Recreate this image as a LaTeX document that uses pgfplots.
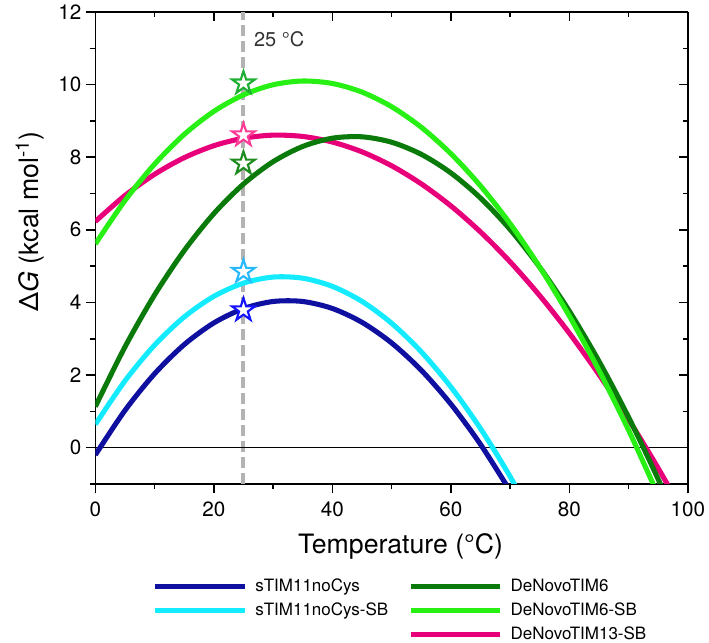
\documentclass[border=0pt]{standalone}
\usepackage{fontspec}
\setmainfont{TeX Gyre Heros}
\usepackage{pgfplots}
\pgfplotsset{compat=1.18}

\definecolor{cNavy}{RGB}{16,16,160}
\definecolor{cCyan}{RGB}{20,235,255}
\definecolor{cDkGreen}{RGB}{10,122,10}
\definecolor{cLtGreen}{RGB}{40,240,20}
\definecolor{cPink}{RGB}{232,0,122}
% star outlines
\definecolor{sNavy}{RGB}{20,20,255}
\definecolor{sCyan}{RGB}{40,185,255}
\definecolor{sDkGreen}{RGB}{30,140,30}
\definecolor{sLtGreen}{RGB}{30,175,50}
\definecolor{sPink}{RGB}{255,60,150}

% five-pointed star mark
\pgfdeclareplotmark{pstar}{%
  \pgfpathmoveto{\pgfpointpolar{90}{\pgfplotmarksize}}%
  \pgfpathlineto{\pgfpointpolar{126}{0.382\pgfplotmarksize}}%
  \pgfpathlineto{\pgfpointpolar{162}{\pgfplotmarksize}}%
  \pgfpathlineto{\pgfpointpolar{198}{0.382\pgfplotmarksize}}%
  \pgfpathlineto{\pgfpointpolar{234}{\pgfplotmarksize}}%
  \pgfpathlineto{\pgfpointpolar{270}{0.382\pgfplotmarksize}}%
  \pgfpathlineto{\pgfpointpolar{306}{\pgfplotmarksize}}%
  \pgfpathlineto{\pgfpointpolar{342}{0.382\pgfplotmarksize}}%
  \pgfpathlineto{\pgfpointpolar{18}{\pgfplotmarksize}}%
  \pgfpathlineto{\pgfpointpolar{54}{0.382\pgfplotmarksize}}%
  \pgfpathclose
  \pgfusepathqfillstroke
}

\pgfplotsset{
  frame/.style={
    at={(0,0)}, anchor=south west,
    width=444.5pt, height=354pt, scale only axis,
    xmin=0, xmax=100, ymin=-1, ymax=12,
    axis line style={-, line width=1.2pt},
    xtick={0,20,...,100}, minor xtick={10,30,...,90},
    ytick={0,2,...,12}, minor ytick={-1,1,...,11},
    major tick length=7pt, minor tick length=4pt,
    tick style={line width=1.2pt, black},
  },
  curve/.style={line width=3.8pt, smooth},
  star/.style={only marks, mark=pstar, mark size=9pt,
    mark options={fill=white, draw=#1, line width=1.6pt, line join=miter}},
}

\begin{document}
\begin{tikzpicture}
\path[use as bounding box] (-71.5pt,-119.25pt) rectangle (460.3pt,363pt);

%%% top and right ticks point inward
\begin{axis}[frame,
  axis x line*=top, axis y line*=right,
  tick align=inside,
  xticklabels={}, yticklabels={},
  ]
  \addplot[draw=none, forget plot] coordinates {(0,0) (100,0)};
\end{axis}

\begin{axis}[frame,
  axis x line*=bottom, axis y line*=left,
  tick align=outside,
  ticklabel style={font=\fontsize{15.5}{17}\selectfont},
  xticklabel style={yshift=-3pt},
  /pgf/number format/assume math mode=true,
  xlabel={Temperature (°C)},
  ylabel={Δ\textit{G} (kcal mol\textsuperscript{-1})},
  label style={font=\fontsize{20}{22}\selectfont},
  x label style={at={(axis description cs:0.515,-0.1328)}, anchor=center},
  y label style={at={(axis description cs:-0.1102,0.556)}, anchor=center},
  legend columns=2,
  legend cell align=left,
  legend image code/.code={\draw[#1, line width=3.8pt] (0pt,0pt) -- (67pt,0pt);},
  legend style={at={(axis description cs:0.09,-0.19)}, anchor=north west,
    draw=none, fill=none, font=\fontsize{12.75}{14}\selectfont,
    row sep=3pt,
    /tikz/every odd column/.append style={column sep=4pt},
    /tikz/every even column/.append style={column sep=13pt}},
  ]

  %%% 25 C marker line and zero line
  \addplot[forget plot, gray!60, line width=3pt, dash pattern=on 8pt off 4pt]
    coordinates {(25,-1) (25,12)};
  \addplot[forget plot, black, line width=0.9pt] coordinates {(0,0) (100,0)};

  %%% DeNovoTIM13-SB
  \addplot[forget plot, curve, cPink] coordinates {
    (0,6.230) (5,6.945) (10,7.530) (15,7.987) (20,8.317) (25,8.523) (30,8.608)
    (35,8.572) (40,8.418) (45,8.148) (50,7.764) (55,7.267) (60,6.659)
    (65,5.942) (70,5.117) (75,4.186) (80,3.150) (85,2.011) (90,0.770)
    (95,-0.573) (100,-2.015)};
  %%% sTIM11noCys
  \addplot[forget plot, curve, cNavy] coordinates {
    (0,-0.200) (5,1.025) (10,2.036) (15,2.839) (20,3.436) (25,3.830) (30,4.026)
    (35,4.026) (40,3.834) (45,3.452) (50,2.884) (55,2.133) (60,1.200)
    (65,0.090) (70,-1.195)};
  %%% sTIM11noCys-SB
  \addplot[forget plot, curve, cCyan] coordinates {
    (0,0.640) (5,1.839) (10,2.825) (15,3.600) (20,4.168) (25,4.533) (30,4.699)
    (35,4.668) (40,4.443) (45,4.029) (50,3.427) (55,2.640) (60,1.672)
    (65,0.525) (70,-0.798) (75,-2.296)};
  %%% DeNovoTIM6
  \addplot[forget plot, curve, cDkGreen] coordinates {
    (0,1.130) (5,2.774) (10,4.207) (15,5.429) (20,6.447) (25,7.261) (30,7.877)
    (35,8.297) (40,8.524) (45,8.562) (50,8.413) (55,8.080) (60,7.567)
    (65,6.875) (70,6.008) (75,4.967) (80,3.756) (85,2.377) (90,0.831)
    (95,-0.878) (100,-2.750)};
  %%% DeNovoTIM6-SB
  \addplot[forget plot, curve, cLtGreen] coordinates {
    (0,5.610) (5,6.805) (10,7.810) (15,8.628) (20,9.263) (25,9.718) (30,9.996)
    (35,10.099) (40,10.031) (45,9.794) (50,9.391) (55,8.825) (60,8.097)
    (65,7.211) (70,6.168) (75,4.971) (80,3.622) (85,2.123) (90,0.476)
    (95,-1.318)};

  %%% measured values at 25 C
  \addplot[forget plot, star=sLtGreen] coordinates {(25,10.04)};
  \addplot[forget plot, star=sPink] coordinates {(25,8.61)};
  \addplot[forget plot, star=sDkGreen] coordinates {(25,7.83)};
  \addplot[forget plot, star=sCyan] coordinates {(25,4.85)};
  \addplot[forget plot, star=sNavy] coordinates {(25,3.79)};

  \node[anchor=west, font=\fontsize{15}{17}\selectfont, text=black!80]
    at (axis cs:26.0,11.26) {25 °C};

  %%% legend
  \addlegendimage{cNavy}\addlegendentry{sTIM11noCys}
  \addlegendimage{cDkGreen}\addlegendentry{DeNovoTIM6}
  \addlegendimage{cCyan}\addlegendentry{sTIM11noCys-SB}
  \addlegendimage{cLtGreen}\addlegendentry{DeNovoTIM6-SB}
  \addlegendimage{empty legend}\addlegendentry{}
  \addlegendimage{cPink}\addlegendentry{DeNovoTIM13-SB}
\end{axis}
\end{tikzpicture}
\end{document}
